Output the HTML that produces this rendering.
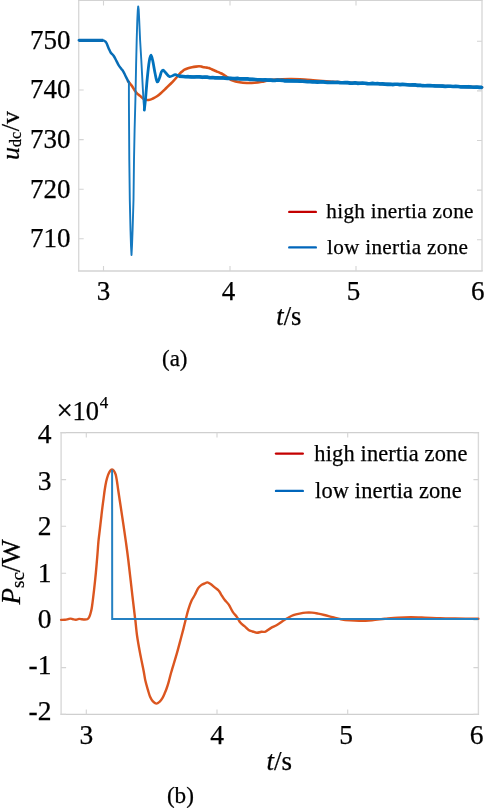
<!DOCTYPE html>
<html><head><meta charset="utf-8"><style>
html,body{margin:0;padding:0;background:#fff;}
body{width:484px;height:808px;overflow:hidden;}
svg{display:block;will-change:transform;}
text{fill:#000;stroke:#000;stroke-width:0.25px;}
</style></head><body>
<svg width="484" height="808" viewBox="0 0 484 808">
<rect width="484" height="808" fill="#fff"/>
<path d="M78.7,0.4V271.0M482.0,0.4V271.0" stroke="#d9d9d9" stroke-width="1.4" fill="none"/>
<path d="M78.0,0.4H482.7M78.0,271.0H482.7" stroke="#d3d3d3" stroke-width="1.4" fill="none"/>
<path d="M103.5,271.0V266.0M103.5,0.4V5.4M230.0,271.0V266.0M230.0,0.4V5.4M356.0,271.0V266.0M356.0,0.4V5.4M78.7,40.4H83.7M482.0,41.3H477.0M78.7,90.0H83.7M482.0,90.9H477.0M78.7,139.6H83.7M482.0,140.5H477.0M78.7,189.2H83.7M482.0,190.1H477.0M78.7,238.8H83.7M482.0,239.7H477.0" stroke="#d4d4d4" stroke-width="1.1" fill="none"/>
<path d="M128.00,81.00 C128.23,81.32 128.83,82.20 129.40,82.90 C129.97,83.60 130.53,83.98 131.40,85.20 C132.27,86.42 133.75,88.93 134.60,90.20 C135.45,91.47 135.87,92.07 136.50,92.80 C137.13,93.53 137.82,94.10 138.40,94.60 C138.98,95.10 139.02,95.00 140.00,95.80 C140.98,96.60 142.85,98.70 144.30,99.40 C145.75,100.10 147.25,100.15 148.70,100.00 C150.15,99.85 151.55,99.17 153.00,98.50 C154.45,97.83 155.95,97.02 157.40,96.00 C158.85,94.98 160.27,93.68 161.70,92.40 C163.13,91.12 164.55,89.70 166.00,88.30 C167.45,86.90 169.18,85.20 170.40,84.00 C171.62,82.80 172.28,82.18 173.30,81.10 C174.32,80.02 175.38,78.80 176.50,77.50 C177.62,76.20 179.00,74.35 180.00,73.30 C181.00,72.25 181.75,71.80 182.50,71.20 C183.25,70.60 183.58,70.18 184.50,69.70 C185.42,69.22 186.75,68.70 188.00,68.30 C189.25,67.90 190.67,67.58 192.00,67.30 C193.33,67.02 194.83,66.77 196.00,66.60 C197.17,66.43 198.08,66.30 199.00,66.30 C199.92,66.30 200.67,66.45 201.50,66.60 C202.33,66.75 203.08,67.03 204.00,67.20 C204.92,67.37 206.17,67.47 207.00,67.60 C207.83,67.73 208.33,67.78 209.00,68.00 C209.67,68.22 210.17,68.52 211.00,68.90 C211.83,69.28 213.00,69.85 214.00,70.30 C215.00,70.75 216.00,71.17 217.00,71.60 C218.00,72.03 219.00,72.45 220.00,72.90 C221.00,73.35 222.00,73.73 223.00,74.30 C224.00,74.87 225.00,75.62 226.00,76.30 C227.00,76.98 228.00,77.73 229.00,78.40 C230.00,79.07 230.25,79.65 232.00,80.30 C233.75,80.95 237.02,81.85 239.50,82.30 C241.98,82.75 244.42,82.92 246.90,83.00 C249.38,83.08 251.92,83.00 254.40,82.80 C256.88,82.60 259.53,82.20 261.80,81.80 C264.07,81.40 265.63,80.78 268.00,80.40 C270.37,80.02 272.33,79.72 276.00,79.50 C279.67,79.28 286.00,79.13 290.00,79.10 C294.00,79.07 296.17,79.12 300.00,79.30 C303.83,79.48 308.00,79.82 313.00,80.20 C318.00,80.58 324.67,81.20 330.00,81.60 C335.33,82.00 335.00,82.17 345.00,82.60 C355.00,83.03 374.17,83.63 390.00,84.20 C405.83,84.77 424.67,85.47 440.00,86.00 C455.33,86.53 475.00,87.17 482.00,87.40" stroke="#d95319" stroke-width="2.6" fill="none" stroke-linejoin="round" stroke-linecap="round"/>
<path d="M78.80,40.30 C81.50,40.30 90.93,40.28 95.00,40.30 C99.07,40.32 101.50,40.20 103.20,40.40 C104.90,40.60 104.63,41.02 105.20,41.50 C105.77,41.98 106.02,42.15 106.60,43.30 C107.18,44.45 108.00,46.83 108.70,48.40 C109.40,49.97 109.98,51.47 110.80,52.70 C111.62,53.93 112.67,54.45 113.60,55.80 C114.53,57.15 115.57,59.25 116.40,60.80 C117.23,62.35 117.77,63.75 118.60,65.10 C119.43,66.45 120.63,67.87 121.40,68.90 C122.17,69.93 122.53,70.17 123.20,71.30 C123.87,72.43 124.57,74.03 125.40,75.70 C126.23,77.37 127.62,80.17 128.20,81.30 C128.78,82.43 128.78,82.30 128.90,82.50" stroke="#086db6" stroke-width="2.5" fill="none" stroke-linejoin="round" stroke-linecap="round"/>
<path d="M78.8,40.3 L95,40.35 L103.2,40.4" stroke="#086db6" stroke-width="3.2" fill="none" stroke-linecap="butt"/>
<path d="M128.90,82.00 L128.90,100.00 L129.10,130.00 L129.30,160.00 L129.80,200.00 L130.50,230.00 L131.00,246.00 L131.50,255.00 L132.00,246.00 L132.60,230.00 L133.50,200.00 L134.00,160.00 L134.60,130.00 L135.40,100.00 L136.10,65.00 L136.70,40.00 L137.30,20.00 L137.80,10.00 L138.20,6.40 L138.70,10.00 L139.20,20.00 L140.10,40.00 L141.30,60.00 L142.80,88.00 L143.60,102.00 L144.30,110.00" stroke="#1579c0" stroke-width="1.9" fill="none" stroke-linejoin="round"/>
<path d="M144.30,110.00 C144.52,108.00 145.10,103.33 145.60,98.00 C146.10,92.67 146.68,84.17 147.30,78.00 C147.92,71.83 148.68,64.80 149.30,61.00 C149.92,57.20 150.42,55.20 151.00,55.20 C151.58,55.20 152.13,58.03 152.80,61.00 C153.47,63.97 154.28,69.55 155.00,73.00 C155.72,76.45 156.35,80.87 157.10,81.70 C157.85,82.53 158.80,79.62 159.50,78.00 C160.20,76.38 160.70,73.32 161.30,72.00 C161.90,70.68 162.40,70.02 163.10,70.10 C163.80,70.18 164.42,71.42 165.50,72.50 C166.58,73.58 167.98,76.23 169.60,76.60 C171.22,76.97 173.65,74.78 175.20,74.70 C176.75,74.62 177.60,75.78 178.90,76.10 C180.20,76.42 178.65,76.42 183.00,76.60 C187.35,76.78 193.83,76.77 205.00,77.20 C216.17,77.63 235.00,78.57 250.00,79.20 C265.00,79.83 280.00,80.43 295.00,81.00 C310.00,81.57 324.17,82.07 340.00,82.60 C355.83,83.13 373.33,83.63 390.00,84.20 C406.67,84.77 424.67,85.47 440.00,86.00 C455.33,86.53 475.00,87.17 482.00,87.40" stroke="#0072bd" stroke-width="2.8" fill="none" stroke-linejoin="round" stroke-linecap="round"/>
<path d="M178.90,76.10 L183.00,76.44 L185.75,76.70 L188.50,76.67 L191.25,76.89 L194.00,76.98 L196.75,76.71 L199.50,76.76 L202.25,77.33 L205.00,77.06 L207.50,77.15 L210.00,77.72 L212.50,77.52 L215.00,77.85 L217.50,77.74 L220.00,77.95 L222.50,77.77 L225.00,78.17 L227.50,78.42 L230.00,78.33 L232.50,78.57 L235.00,78.64 L237.50,78.38 L240.00,78.91 L242.50,78.92 L245.00,78.86 L247.50,78.81 L250.00,79.42 L252.50,79.28 L255.00,79.53 L257.50,79.73 L260.00,79.73 L262.50,79.95 L265.00,79.74 L267.50,80.08 L270.00,79.97 L272.50,80.36 L275.00,80.43 L277.50,80.06 L280.00,80.18 L282.50,80.33 L285.00,80.88 L287.50,80.66 L290.00,80.88 L292.50,80.78 L295.00,81.00 L297.50,81.02 L300.00,81.09 L302.50,81.32 L305.00,81.41 L307.50,81.69 L310.00,81.64 L312.50,81.88 L315.00,81.92 L317.50,82.09 L320.00,81.99 L322.50,81.78 L325.00,82.28 L327.50,82.43 L330.00,82.49 L332.50,82.37 L335.00,82.55 L337.50,82.34 L340.00,82.80 L342.50,82.72 L345.00,82.63 L347.50,82.58 L350.00,83.13 L352.50,83.29 L355.00,82.83 L357.50,83.34 L360.00,83.19 L362.50,83.11 L365.00,83.28 L367.50,83.64 L370.00,83.78 L372.50,83.37 L375.00,83.79 L377.50,83.53 L380.00,84.01 L382.50,83.86 L385.00,84.27 L387.50,84.41 L390.00,84.20 L392.50,84.59 L395.00,84.27 L397.50,84.22 L400.00,84.62 L402.50,84.37 L405.00,84.56 L407.50,84.77 L410.00,84.99 L412.50,84.80 L415.00,84.83 L417.50,85.41 L420.00,85.17 L422.50,85.65 L425.00,85.70 L427.50,85.48 L430.00,85.62 L432.50,85.74 L435.00,85.91 L437.50,85.97 L440.00,86.04 L442.62,86.16 L445.25,86.44 L447.88,86.27 L450.50,86.31 L453.12,86.57 L455.75,86.37 L458.38,86.49 L461.00,86.99 L463.62,86.80 L466.25,86.90 L468.88,86.67 L471.50,87.00 L474.12,87.19 L476.75,86.94 L479.38,87.38 L482.00,87.40" stroke="#0072bd" stroke-width="3.6" fill="none" stroke-linejoin="round" stroke-linecap="butt"/>
<text x="70.5" y="48.7" text-anchor="end" style="font-family:'Liberation Serif',serif;font-size:27px">750</text>
<text x="70.5" y="98.3" text-anchor="end" style="font-family:'Liberation Serif',serif;font-size:27px">740</text>
<text x="70.5" y="147.9" text-anchor="end" style="font-family:'Liberation Serif',serif;font-size:27px">730</text>
<text x="70.5" y="197.5" text-anchor="end" style="font-family:'Liberation Serif',serif;font-size:27px">720</text>
<text x="70.5" y="247.1" text-anchor="end" style="font-family:'Liberation Serif',serif;font-size:27px">710</text>
<text x="103.5" y="300.4" text-anchor="middle" style="font-family:'Liberation Serif',serif;font-size:27px">3</text>
<text x="228.6" y="300.4" text-anchor="middle" style="font-family:'Liberation Serif',serif;font-size:27px">4</text>
<text x="353.5" y="300.4" text-anchor="middle" style="font-family:'Liberation Serif',serif;font-size:27px">5</text>
<text x="477.8" y="300.4" text-anchor="middle" style="font-family:'Liberation Serif',serif;font-size:27px">6</text>
<text x="276.3" y="324.8" style="font-family:'Liberation Serif',serif;font-size:26.5px"><tspan font-style="italic">t</tspan>/s</text>
<text x="162.0" y="366.2" style="font-family:'Liberation Serif',serif;font-size:23px">(a)</text>
<text transform="translate(18.6,160.0) rotate(-90)" style="font-family:'Liberation Serif',serif;font-size:26px"><tspan font-style="italic">u</tspan><tspan font-size="16px" dy="2.5">dc</tspan><tspan dy="-2.5" dx="0.7">/v</tspan></text>
<path d="M289.3,211.9H315.8" stroke="#c40000" stroke-width="2.4" stroke-linecap="round"/>
<path d="M289.3,247.4H315.8" stroke="#0066bb" stroke-width="2.4" stroke-linecap="round"/>
<text x="326.3" y="217.7" style="font-family:'Liberation Serif',serif;font-size:21.2px;letter-spacing:0.3px">high inertia zone</text>
<text x="327.0" y="253.9" style="font-family:'Liberation Serif',serif;font-size:21.2px;letter-spacing:0.3px">low inertia zone</text>
<path d="M61.1,432.6V714.4M478.4,432.6V714.4" stroke="#d9d9d9" stroke-width="1.4" fill="none"/>
<path d="M60.4,432.6H479.09999999999997M60.4,714.4H479.09999999999997" stroke="#cfcfcf" stroke-width="1.4" fill="none"/>
<path d="M86.3,714.4V709.4M86.3,432.6V437.6M217.0,714.4V709.4M217.0,432.6V437.6M347.7,714.4V709.4M347.7,432.6V437.6M61.1,432.6H66.1M478.4,432.6H473.4M61.1,479.6H66.1M478.4,479.6H473.4M61.1,526.3H66.1M478.4,526.3H473.4M61.1,573.3H66.1M478.4,573.3H473.4M61.1,620.0H66.1M478.4,620.0H473.4M61.1,667.6H66.1M478.4,667.6H473.4M61.1,714.4H66.1M478.4,714.4H473.4" stroke="#d4d4d4" stroke-width="1.1" fill="none"/>
<path d="M61.10,619.90 C61.75,619.88 63.85,619.92 65.00,619.80 C66.15,619.68 67.10,619.40 68.00,619.20 C68.90,619.00 69.57,618.58 70.40,618.60 C71.23,618.62 72.07,619.12 73.00,619.30 C73.93,619.48 75.00,619.77 76.00,619.70 C77.00,619.63 78.00,618.97 79.00,618.90 C80.00,618.83 81.08,619.20 82.00,619.30 C82.92,619.40 83.77,619.48 84.50,619.50 C85.23,619.52 85.85,619.50 86.40,619.40 C86.95,619.30 87.37,619.22 87.80,618.90 C88.23,618.58 88.65,618.08 89.00,617.50 C89.35,616.92 89.57,616.40 89.90,615.40 C90.23,614.40 90.65,612.98 91.00,611.50 C91.35,610.02 91.48,610.15 92.00,606.50 C92.52,602.85 93.45,595.30 94.10,589.60 C94.75,583.90 95.35,578.07 95.90,572.30 C96.45,566.53 96.98,560.07 97.40,555.00 C97.82,549.93 98.07,545.53 98.40,541.90 C98.73,538.27 99.07,536.08 99.40,533.20 C99.73,530.32 100.07,527.47 100.40,524.60 C100.73,521.73 101.07,518.88 101.40,516.00 C101.73,513.12 102.03,510.25 102.40,507.30 C102.77,504.35 103.22,501.18 103.60,498.30 C103.98,495.42 104.27,492.80 104.70,490.00 C105.13,487.20 105.63,484.03 106.20,481.50 C106.77,478.97 107.43,476.60 108.10,474.80 C108.77,473.00 109.55,471.58 110.20,470.70 C110.85,469.82 111.40,469.52 112.00,469.50 C112.60,469.48 113.18,469.75 113.80,470.60 C114.42,471.45 115.17,472.78 115.70,474.60 C116.23,476.42 116.58,478.93 117.00,481.50 C117.42,484.07 117.57,485.70 118.20,490.00 C118.83,494.30 119.93,501.53 120.80,507.30 C121.67,513.07 122.55,518.83 123.40,524.60 C124.25,530.37 125.08,536.00 125.90,541.90 C126.72,547.80 127.30,551.75 128.30,560.00 C129.30,568.25 130.82,582.07 131.90,591.40 C132.98,600.73 134.22,611.15 134.80,616.00 C135.38,620.85 135.02,617.17 135.40,620.50 C135.78,623.83 136.32,630.52 137.10,636.00 C137.88,641.48 139.02,647.62 140.10,653.40 C141.18,659.18 142.72,666.13 143.60,670.70 C144.48,675.27 144.67,677.55 145.40,680.80 C146.13,684.05 147.22,687.53 148.00,690.20 C148.78,692.87 149.32,694.98 150.10,696.80 C150.88,698.62 151.67,699.97 152.70,701.10 C153.73,702.23 155.17,703.47 156.30,703.60 C157.43,703.73 158.48,702.80 159.50,701.90 C160.52,701.00 161.48,699.75 162.40,698.20 C163.32,696.65 164.30,694.22 165.00,692.60 C165.70,690.98 165.98,690.30 166.60,688.50 C167.22,686.70 167.92,684.55 168.70,681.80 C169.48,679.05 170.00,676.52 171.30,672.00 C172.60,667.48 174.85,660.48 176.50,654.70 C178.15,648.92 180.02,641.73 181.20,637.30 C182.38,632.87 182.87,630.98 183.60,628.10 C184.33,625.22 184.82,623.07 185.60,620.00 C186.38,616.93 187.30,612.93 188.30,609.70 C189.30,606.47 190.50,603.08 191.60,600.60 C192.70,598.12 193.80,596.87 194.90,594.80 C196.00,592.73 197.10,589.85 198.20,588.20 C199.30,586.55 200.40,585.70 201.50,584.90 C202.60,584.10 203.83,583.82 204.80,583.40 C205.77,582.98 206.33,582.30 207.30,582.40 C208.27,582.50 209.37,583.17 210.60,584.00 C211.83,584.83 213.33,586.28 214.70,587.40 C216.07,588.52 217.70,589.47 218.80,590.70 C219.90,591.93 220.33,593.28 221.30,594.80 C222.27,596.32 223.35,598.15 224.60,599.80 C225.85,601.45 227.42,602.65 228.80,604.70 C230.18,606.75 231.53,610.03 232.90,612.10 C234.27,614.17 235.77,615.35 237.00,617.10 C238.23,618.85 239.05,621.08 240.30,622.60 C241.55,624.12 243.12,624.97 244.50,626.20 C245.88,627.43 247.23,629.12 248.60,630.00 C249.97,630.88 251.32,631.03 252.70,631.50 C254.08,631.97 255.45,632.75 256.90,632.80 C258.35,632.85 259.97,632.00 261.40,631.80 C262.83,631.60 263.95,632.22 265.50,631.60 C267.05,630.98 268.80,629.20 270.70,628.10 C272.60,627.00 274.83,626.22 276.90,625.00 C278.97,623.78 281.22,622.02 283.10,620.80 C284.98,619.58 286.48,618.63 288.20,617.70 C289.92,616.77 291.50,615.88 293.40,615.20 C295.30,614.52 297.53,614.03 299.60,613.60 C301.67,613.17 303.73,612.77 305.80,612.60 C307.87,612.43 309.93,612.43 312.00,612.60 C314.07,612.77 316.13,613.20 318.20,613.60 C320.27,614.00 322.00,614.42 324.40,615.00 C326.80,615.58 329.85,616.40 332.60,617.10 C335.35,617.80 338.00,618.65 340.90,619.20 C343.80,619.75 346.82,620.13 350.00,620.40 C353.18,620.67 356.33,620.83 360.00,620.80 C363.67,620.77 367.83,620.53 372.00,620.20 C376.17,619.87 380.67,619.23 385.00,618.80 C389.33,618.37 393.67,617.87 398.00,617.60 C402.33,617.33 406.50,617.20 411.00,617.20 C415.50,617.20 420.17,617.43 425.00,617.60 C429.83,617.77 435.00,618.05 440.00,618.20 C445.00,618.35 448.60,618.40 455.00,618.50 C461.40,618.60 474.50,618.75 478.40,618.80" stroke="#db5620" stroke-width="2.4" fill="none" stroke-linejoin="round" stroke-linecap="round"/>
<path d="M112.10,469.80 L112.20,619.00 L478.40,619.00" stroke="#2581c2" stroke-width="2.0" fill="none" stroke-linejoin="miter"/>
<text x="51.5" y="442.5" text-anchor="end" style="font-family:'Liberation Serif',serif;font-size:27.5px">4</text>
<text x="51.5" y="489.9" text-anchor="end" style="font-family:'Liberation Serif',serif;font-size:27.5px">3</text>
<text x="51.5" y="535.3" text-anchor="end" style="font-family:'Liberation Serif',serif;font-size:27.5px">2</text>
<text x="51.5" y="582.3" text-anchor="end" style="font-family:'Liberation Serif',serif;font-size:27.5px">1</text>
<text x="51.5" y="627.9" text-anchor="end" style="font-family:'Liberation Serif',serif;font-size:27.5px">0</text>
<text x="51.5" y="674.4" text-anchor="end" style="font-family:'Liberation Serif',serif;font-size:27.5px">-1</text>
<text x="51.5" y="720.4" text-anchor="end" style="font-family:'Liberation Serif',serif;font-size:27.5px">-2</text>
<text x="86.3" y="743.6" text-anchor="middle" style="font-family:'Liberation Serif',serif;font-size:27.5px">3</text>
<text x="217.0" y="743.6" text-anchor="middle" style="font-family:'Liberation Serif',serif;font-size:27.5px">4</text>
<text x="346.2" y="743.6" text-anchor="middle" style="font-family:'Liberation Serif',serif;font-size:27.5px">5</text>
<text x="476.6" y="743.6" text-anchor="middle" style="font-family:'Liberation Serif',serif;font-size:27.5px">6</text>
<text x="56.4" y="420.3" style="font-family:'Liberation Serif',serif;font-size:29px">×</text>
<text x="72.5" y="420.3" style="font-family:'Liberation Serif',serif;font-size:26.5px">10</text>
<text x="99.8" y="408.2" style="font-family:'Liberation Serif',serif;font-size:17px">4</text>
<text x="266.5" y="769.5" style="font-family:'Liberation Serif',serif;font-size:27px"><tspan font-style="italic">t</tspan>/s</text>
<text x="166.9" y="802.7" style="font-family:'Liberation Serif',serif;font-size:23.2px">(b)</text>
<text transform="translate(19.8,604.5) rotate(-90)" style="font-family:'Liberation Serif',serif;font-size:27px"><tspan font-style="italic">P</tspan><tspan font-size="19px" dy="4">sc</tspan><tspan dy="-4">/W</tspan></text>
<path d="M276.0,453.6H302.8" stroke="#c40000" stroke-width="2.4" stroke-linecap="round"/>
<path d="M276.0,490.9H302.8" stroke="#0066bb" stroke-width="2.4" stroke-linecap="round"/>
<text x="314.3" y="460.8" style="font-family:'Liberation Serif',serif;font-size:22.4px;letter-spacing:0.16px">high inertia zone</text>
<text x="315.0" y="498.2" style="font-family:'Liberation Serif',serif;font-size:22.4px;letter-spacing:0.16px">low inertia zone</text>
</svg>
</body></html>
